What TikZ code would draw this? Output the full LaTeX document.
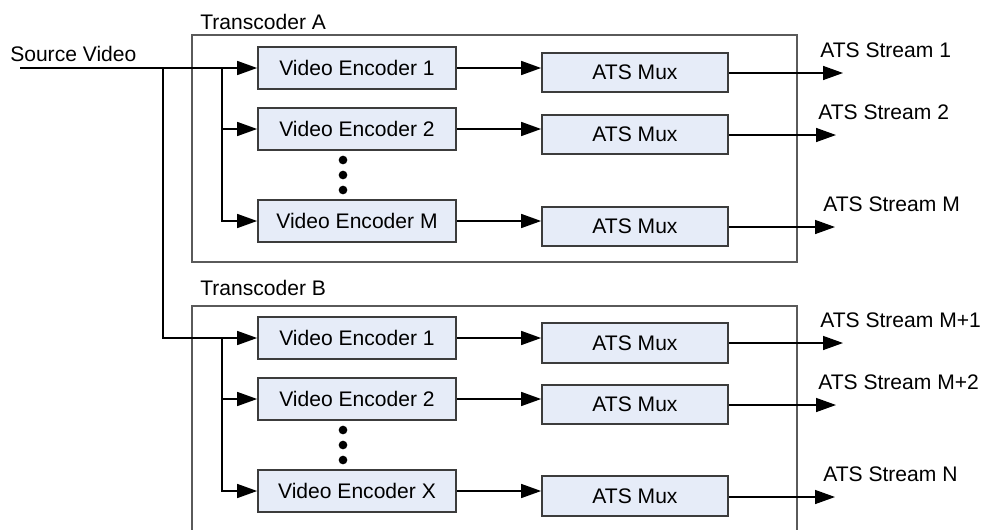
\documentclass[tikz,border=0pt]{standalone}
\usepackage{fontspec}
\setmainfont{Liberation Sans}
\usetikzlibrary{arrows.meta}
\definecolor{boxfill}{RGB}{230,236,248}
\definecolor{boxline}{RGB}{60,60,60}
\definecolor{frameline}{RGB}{90,90,90}
\begin{document}
\begin{tikzpicture}[x=0.75pt,y=-0.75pt,
  font=\fontsize{15.8}{19}\selectfont,
  enc/.style={draw=boxline,fill=boxfill,line width=1.3pt,minimum width=148.5pt,minimum height=31.5pt,inner sep=0pt},
  mux/.style={draw=boxline,fill=boxfill,line width=1.3pt,minimum width=139.5pt,minimum height=29.5pt,inner sep=0pt},
  frame/.style={draw=frameline,line width=1.1pt},
  conn/.style={line width=1.1pt,-{Triangle[length=15pt,width=10.5pt]}},
  lbl/.style={anchor=west,inner sep=0pt},
  dot/.style={circle,fill=black,inner sep=0pt,minimum size=6.5pt}]
\useasboundingbox (0,0) rectangle (984,529);

% transcoder frames (the lower one runs past the page edge)
\begin{scope}
\clip (0,0) rectangle (984,529);
\draw[frame] (192,35) rectangle (797,262);
\draw[frame] (192,306) rectangle (797,560);
\end{scope}
\node[lbl] (tA) at (200,22) {Transcoder A};
\node[lbl] (tB) at (200,288) {Transcoder B};

% transcoder A blocks
\node[enc] (eA1) at (357,68) {Video Encoder 1};
\node[enc] (eA2) at (357,129) {Video Encoder 2};
\node[enc] (eAM) at (357,221) {Video Encoder M};
\node[mux] (mA1) at (635,72.5) {ATS Mux};
\node[mux] (mA2) at (635,134.5) {ATS Mux};
\node[mux] (mAM) at (635,226.5) {ATS Mux};
\node[dot] (dA1) at (343,160) {};
\node[dot] (dA2) at (343,175) {};
\node[dot] (dA3) at (343,190) {};

% transcoder B blocks
\node[enc] (eB1) at (357,338) {Video Encoder 1};
\node[enc] (eB2) at (357,399) {Video Encoder 2};
\node[enc] (eBX) at (357,491) {Video Encoder X};
\node[mux] (mB1) at (635,343) {ATS Mux};
\node[mux] (mB2) at (635,404.5) {ATS Mux};
\node[mux] (mBX) at (635,496) {ATS Mux};
\node[dot] (dB1) at (343,430) {};
\node[dot] (dB2) at (343,445) {};
\node[dot] (dB3) at (343,460) {};

% source input and fan-out
\node[lbl] (src) at (10,54) {Source Video};
\coordinate (s0) at (20,68);
\coordinate (jS) at (163,68);
\coordinate (jA) at (222,68);
\coordinate (jB) at (222,338);
\draw[conn] (s0) -- (eA1.west);
\draw[conn] (jS) |- (eB1.west);
\draw[conn] (jA) |- (eA2.west);
\draw[conn] (jA) |- (eAM.west);
\draw[conn] (jB) |- (eB2.west);
\draw[conn] (jB) |- (eBX.west);

% encoder to mux
\foreach \e/\m in {eA1/mA1,eA2/mA2,eAM/mAM,eB1/mB1,eB2/mB2,eBX/mBX}
  \draw[conn] (\e.east) -- (\e.east -| \m.west);

% outputs
\coordinate (oA1) at (843,73);
\coordinate (oA2) at (836,135);
\coordinate (oAM) at (835,227);
\coordinate (oB1) at (843,343);
\coordinate (oB2) at (836,405);
\coordinate (oBX) at (835,497);
\foreach \m/\o in {mA1/oA1,mA2/oA2,mAM/oAM,mB1/oB1,mB2/oB2,mBX/oBX}
  \draw[conn] (\m.east |- \o) -- (\o);

\node[lbl] (lA1) at (820,50) {ATS Stream 1};
\node[lbl] (lA2) at (818,112) {ATS Stream 2};
\node[lbl] (lAM) at (823,204) {ATS Stream M};
\node[lbl] (lB1) at (820,320) {ATS Stream M+1};
\node[lbl] (lB2) at (818,382) {ATS Stream M+2};
\node[lbl] (lBX) at (823,474) {ATS Stream N};
\end{tikzpicture}
\end{document}
